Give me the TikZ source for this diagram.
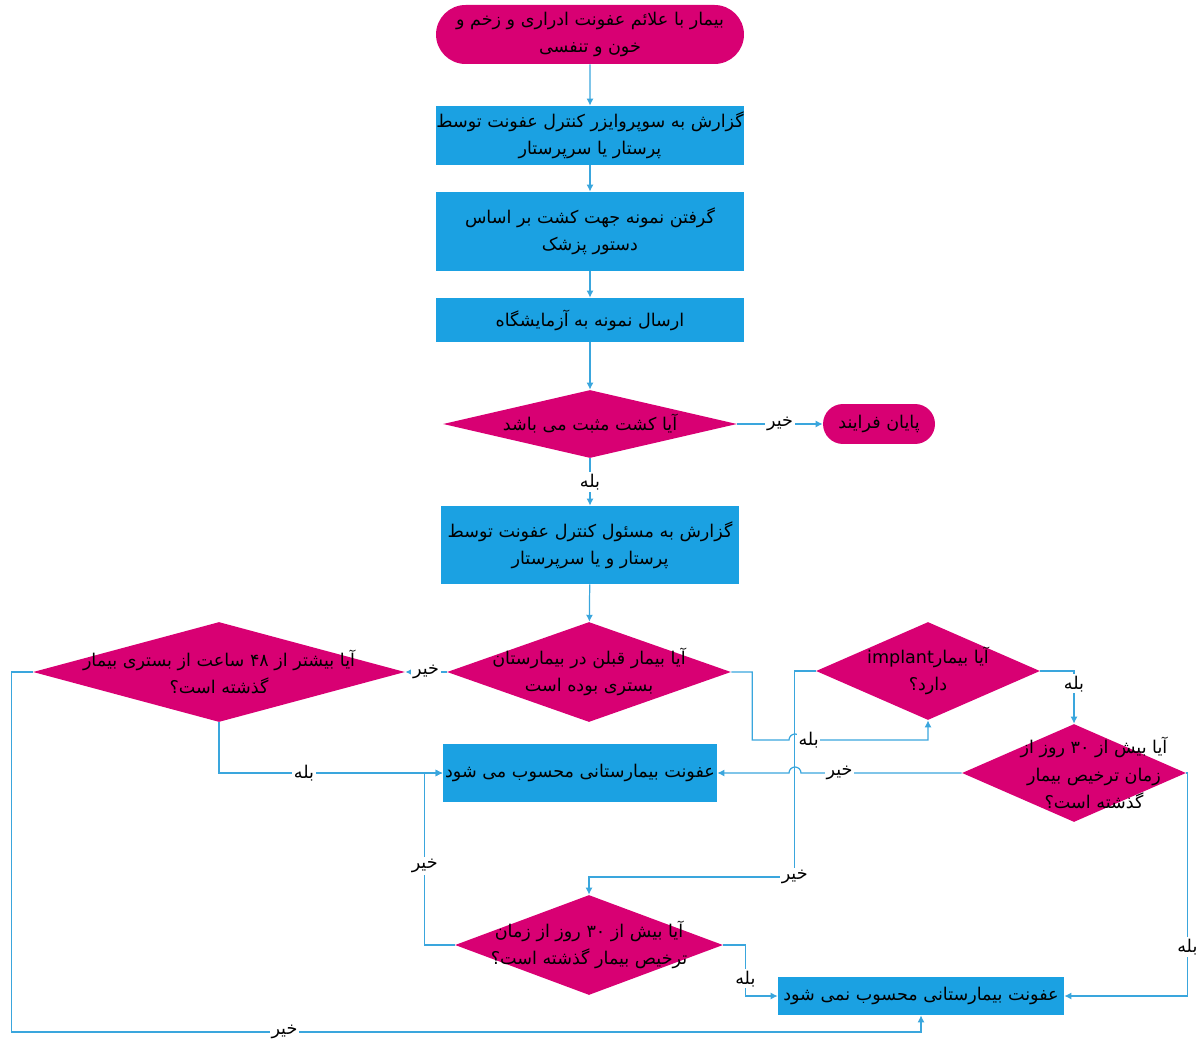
\documentclass[tikz,border=0pt]{standalone}
\usepackage{fontspec}
\usetikzlibrary{shapes.geometric,shapes.misc,arrows.meta}
\newfontfamily\farsifont[Script=Arabic]{DejaVu Sans}
\TeXXeTstate=1
\definecolor{mag}{HTML}{D80073}
\definecolor{cyn}{HTML}{1BA1E2}
\definecolor{lnkc}{HTML}{3AA6DD}
\begin{document}
\begin{tikzpicture}[x=0.02cm,y=-0.02cm,
    every node/.style={font=\farsifont\fontsize{10}{15.5}\selectfont},
    term/.style={rounded rectangle,fill=mag,inner sep=0pt,align=center},
    proc/.style={rectangle,fill=cyn,inner sep=0pt,align=center},
    dec/.style={diamond,fill=mag,inner sep=0pt},
    lnk/.style={draw=lnkc,line width=0.7pt,-{Latex[length=4pt,width=4pt]}},
    lbl/.style={fill=white,inner sep=1pt}]
  \useasboundingbox (0,0) rectangle (1202,1050);
  \node[term,minimum width=6.16cm,minimum height=1.18cm] (start) at (590,34.5)
    {\beginR بیمار با علائم عفونت ادراری و زخم و\endR\\\beginR خون و تنفسی\endR};
  \node[proc,minimum width=6.16cm,minimum height=1.18cm] (box1) at (590,135.5)
    {\beginR گزارش به سوپروایزر کنترل عفونت توسط\endR\\\beginR پرستار یا سرپرستار\endR};
  \node[proc,minimum width=6.16cm,minimum height=1.58cm] (box2) at (590,231.5)
    {\beginR گرفتن نمونه جهت کشت  بر اساس\endR\\\beginR دستور پزشک\endR};
  \node[proc,minimum width=6.16cm,minimum height=0.88cm] (box3) at (590,320)
    {\beginR ارسال نمونه به آزمایشگاه\endR};
  \node[dec,minimum width=5.88cm,minimum height=1.36cm,
    label={center:\beginR آیا کشت مثبت می باشد\endR}] (dia1) at (590,424) {};
  \node[term,minimum width=2.24cm,minimum height=0.8cm] (stop) at (879,424)
    {\beginR پایان فرایند\endR};
  \node[proc,minimum width=5.96cm,minimum height=1.56cm] (box4) at (590,545)
    {\beginR گزارش به مسئول کنترل عفونت توسط\endR\\\beginR پرستار و یا سرپرستار\endR};
  \node[dec,minimum width=5.68cm,minimum height=2cm,
    label={[align=center]center:{\beginR آیا بیمار قبلن در بیمارستان\endR\\\beginR بستری بوده است\endR}}] (dia2) at (589,672) {};
  \node[dec,minimum width=7.44cm,minimum height=2cm,
    label={[align=center]center:{\beginR آیا بیشتر از ۴۸ ساعت از بستری بیمار\endR\\\beginR گذشته است؟\endR}}] (dia3) at (219,672) {};
  \node[proc,minimum width=5.48cm,minimum height=1.16cm] (box5) at (580,773)
    {\beginR عفونت بیمارستانی محسوب می شود\endR};
  \node[dec,minimum width=4.48cm,minimum height=1.96cm,
    label={[align=center]center:{\beginR آیا بیمار\beginL implant\endL\endR\\\beginR دارد؟\endR}}] (dia4) at (928,671) {};
  \node[dec,minimum width=4.48cm,minimum height=1.96cm,
    label={[align=center,xshift=0.4cm]center:{\beginR آیا بیش از ۳۰ روز از\endR\\\beginR زمان ترخیص بیمار\endR\\\beginR گذشته است؟\endR}}] (dia5) at (1074,773) {};
  \node[dec,minimum width=5.36cm,minimum height=2cm,
    label={[align=center]center:{\beginR آیا بیش از ۳۰ روز از زمان\endR\\\beginR ترخیص بیمار گذشته است؟\endR}}] (dia6) at (589,945) {};
  \node[proc,minimum width=5.72cm,minimum height=0.76cm] (box6) at (921,996)
    {\beginR عفونت بیمارستانی محسوب نمی شود\endR};
  % main line
  \draw[lnk] (start) -- (box1);
  \draw[lnk] (box1) -- (box2);
  \draw[lnk] (box2) -- (box3);
  \draw[lnk] (box3) -- (dia1);
  \draw[lnk] (dia1) -- node[lbl] (no1) {\beginR خیر\endR} (stop);
  \draw[lnk] (dia1) -- node[lbl] (yes1) {\beginR بله\endR} (box4);
  \draw[lnk] (box4) -- (dia2);
  % branches
  \draw[lnk] (dia2) -- node[lbl] (no2) {\beginR خیر\endR} (dia3);
  \draw[lnk] (dia3.south) |- node[lbl,pos=0.69] (yes2) {\beginR بله\endR} (box5.west);
  \draw[lnk] (dia3.west) -- ++(-21,0) -- ++(0,360) -| node[lbl,pos=0.15] (no3) {\beginR خیر\endR} (box6.south);
  \draw[lnk] (dia2.east) -- ++(21,0) |- (789,740) arc[start angle=180,end angle=360,radius=6]
    -| node[lbl,pos=0.03] (yes3) {\beginR بله\endR} (dia4.south);
  \draw[lnk] (dia4.west) -- ++(-21,0) -- ++(0,206) node[lbl] (no4) {\beginR خیر\endR} -| (dia6.north);
  \draw[lnk] (dia4.east) -| node[lbl,pos=0.62] (yes4) {\beginR بله\endR} (dia5.north);
  \draw[lnk] (dia5.west) -- node[lbl,pos=0.76] (no5) {\beginR خیر\endR} (801,773)
    arc[start angle=0,end angle=-180,radius=6] -- (box5.east);
  \draw[lnk] (dia5.east) -- ++(1,0) |- node[lbl,pos=0.39] (yes5) {\beginR بله\endR} (box6.east);
  \draw[lnk] (dia6.west) -- ++(-30,0) |- node[lbl,pos=0.23] (no6) {\beginR خیر\endR} (box5.west);
  \draw[lnk] (dia6.east) -- ++(22,0) |- node[lbl,pos=0.33] (yes6) {\beginR بله\endR} (box6.west);
\end{tikzpicture}
\end{document}
